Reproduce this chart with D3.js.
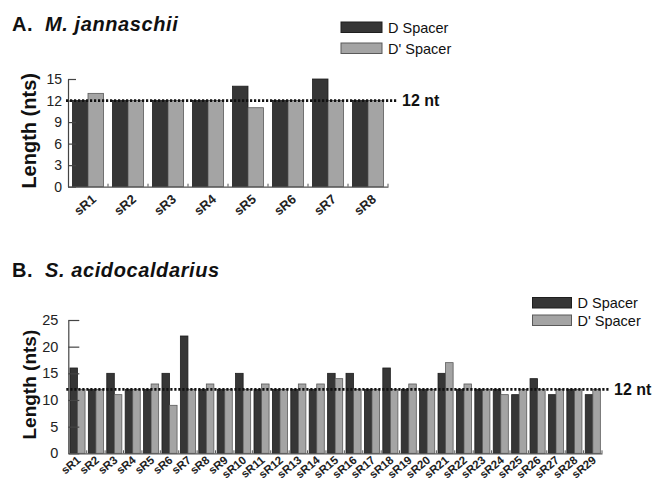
<!DOCTYPE html>
<html>
<head>
<meta charset="utf-8">
<script src="https://cdn.jsdelivr.net/npm/d3@7"></script>
<style>
  body { margin: 0; background: #fff; }
  svg { display: block; font-family: "Liberation Sans", Arial, sans-serif; }
</style>
</head>
<body>
<svg id="chart" width="654" height="482"></svg>
<script>
// Panel A: M. jannaschii
const catsA = ["sR1", "sR2", "sR3", "sR4", "sR5", "sR6", "sR7", "sR8"];
const dSpacerA = [12, 12, 12, 12, 14, 12, 15, 12];
const dPrimeA = [13, 12, 12, 12, 11, 12, 12, 12];
const ticksA = [0, 3, 6, 9, 12, 15];

// Panel B: S. acidocaldarius
const catsB = d3.range(1, 30).map(i => "sR" + i);
const dSpacerB = [16, 12, 15, 12, 12, 15, 22, 12, 12, 15, 12, 12, 12, 12, 15,
                  15, 12, 16, 12, 12, 15, 12, 12, 12, 11, 14, 11, 12, 11];
const dPrimeB = [12, 12, 11, 12, 13, 9, 12, 13, 12, 12, 13, 12, 13, 13, 14,
                 12, 12, 12, 13, 12, 17, 13, 12, 11, 12, 12, 12, 12, 12];
const ticksB = [0, 5, 10, 15, 20, 25];

const series = ["D Spacer", "D' Spacer"];
const refLine = 12;

const svg = d3.select("#chart");
const fill = d3.scaleOrdinal().domain(series).range(["#363636", "#a4a4a4"]);
const edge = d3.scaleOrdinal().domain(series).range(["#1e1e1e", "#5a5a5a"]);

function drawPanel(p) {
  const g = svg.append("g");

  const x0 = d3.scaleBand().domain(p.cats).range([p.left, p.right]);
  const bw = x0.bandwidth();
  const x1 = d3.scaleBand().domain(series)
    .range([bw * (1 - p.fill) / 2, bw * (1 + p.fill) / 2]);
  const y = d3.scaleLinear().domain([0, p.max]).range([p.bottom, p.top]);

  // title
  const t = g.append("text")
    .attr("x", 12).attr("y", p.titleY)
    .attr("font-size", 20).attr("font-weight", "bold")
    .attr("letter-spacing", 0.6).attr("fill", "#111");
  t.append("tspan").text(p.letter);
  t.append("tspan").attr("x", 45).attr("font-style", "italic").text(p.species);

  // bars
  const rows = p.cats.map((c, i) => ({ cat: c, vals: [p.d[i], p.dp[i]] }));
  g.selectAll(".grp")
    .data(rows)
    .join("g")
    .attr("transform", d => `translate(${x0(d.cat)},0)`)
    .selectAll("rect")
    .data(d => d.vals.map((v, j) => ({ key: series[j], v })))
    .join("rect")
    .attr("x", d => x1(d.key))
    .attr("width", x1.bandwidth())
    .attr("y", d => y(d.v))
    .attr("height", d => p.bottom - y(d.v))
    .attr("fill", d => fill(d.key))
    .attr("stroke", d => edge(d.key))
    .attr("stroke-width", 0.8);

  // y axis with inward ticks
  const yAxis = g.append("g")
    .attr("transform", `translate(${p.left},0)`)
    .call(d3.axisLeft(y).tickValues(p.ticks).tickSizeInner(-p.tickLen)
      .tickSizeOuter(0).tickPadding(p.tickPad));
  yAxis.select(".domain").attr("stroke", "#444").attr("stroke-width", 1.2);
  yAxis.selectAll(".tick line").attr("stroke", "#444").attr("stroke-width", 1.2);
  yAxis.selectAll(".tick text")
    .attr("font-size", p.tickFont).attr("font-family", null).attr("fill", "#222");

  // x axis baseline with boundary ticks
  const xAxis = g.append("g")
    .attr("transform", `translate(0,${p.bottom})`)
    .call(d3.axisBottom(x0).tickSize(0).tickFormat(""));
  xAxis.select(".domain").attr("stroke", "#555").attr("stroke-width", 1.2);
  g.selectAll(".bound")
    .data(p.cats.slice(1).concat([null]))
    .join("line")
    .attr("x1", d => d ? x0(d) : p.right)
    .attr("x2", d => d ? x0(d) : p.right)
    .attr("y1", p.bottom).attr("y2", p.bottom - 3)
    .attr("stroke", "#555").attr("stroke-width", 1);

  // category labels
  g.selectAll(".cat")
    .data(p.cats)
    .join("text")
    .attr("transform", c =>
      `translate(${x0(c) + bw / 2 + p.labDx},${p.bottom + p.labDy}) rotate(${p.labRot})`)
    .attr("text-anchor", "end")
    .attr("font-size", p.labFont).attr("font-weight", "bold").attr("fill", "#222")
    .text(c => c);

  // y label
  g.append("text")
    .attr("transform", `translate(${p.yLabX},${(p.top + p.bottom) / 2 - 2}) rotate(-90)`)
    .attr("text-anchor", "middle")
    .attr("font-size", p.yLabFont).attr("font-weight", "bold").attr("fill", "#111")
    .text("Length (nts)");

  // 12 nt dotted line
  g.append("line")
    .attr("x1", p.left - 2).attr("x2", p.lineEnd)
    .attr("y1", y(refLine)).attr("y2", y(refLine))
    .attr("stroke", "#111").attr("stroke-width", 2.8)
    .attr("stroke-dasharray", "2.2,1.8");
  g.append("text")
    .attr("x", p.lineEnd + 5).attr("y", y(refLine) + 5.5)
    .attr("font-size", 16).attr("font-weight", "bold").attr("fill", "#111")
    .text(refLine + " nt");

  // legend
  const lg = g.append("g").attr("transform", `translate(${p.legX},${p.legY})`);
  lg.selectAll("rect")
    .data(series)
    .join("rect")
    .attr("x", 0).attr("y", (d, i) => i * p.legStep)
    .attr("width", p.legW).attr("height", 10.5)
    .attr("fill", d => fill(d)).attr("stroke", d => edge(d)).attr("stroke-width", 1);
  lg.selectAll("text")
    .data(series)
    .join("text")
    .attr("x", p.legW + 6).attr("y", (d, i) => i * p.legStep + 10.5)
    .attr("font-size", 14.5).attr("fill", "#111")
    .text(d => d);
}

drawPanel({
  letter: "A.", species: "M. jannaschii", titleY: 30.5,
  cats: catsA, d: dSpacerA, dp: dPrimeA, ticks: ticksA, max: 15,
  left: 68, right: 388, top: 79, bottom: 186.7, fill: 0.775,
  tickLen: 8, tickPad: 6, tickFont: 14,
  labDx: 9, labDy: 14, labRot: -40, labFont: 13,
  yLabX: 36, yLabFont: 20,
  lineEnd: 397,
  legX: 341, legY: 22, legW: 41, legStep: 21
});

drawPanel({
  letter: "B.", species: "S. acidocaldarius", titleY: 277,
  cats: catsB, d: dSpacerB, dp: dPrimeB, ticks: ticksB, max: 25,
  left: 68.3, right: 602, top: 320, bottom: 453.3, fill: 0.82,
  tickLen: 11, tickPad: 10, tickFont: 14.5,
  labDx: 4, labDy: 8, labRot: -40, labFont: 11.5,
  yLabX: 36, yLabFont: 19,
  lineEnd: 609,
  legX: 532.5, legY: 297.5, legW: 39, legStep: 17.5
});
</script>
</body>
</html>
